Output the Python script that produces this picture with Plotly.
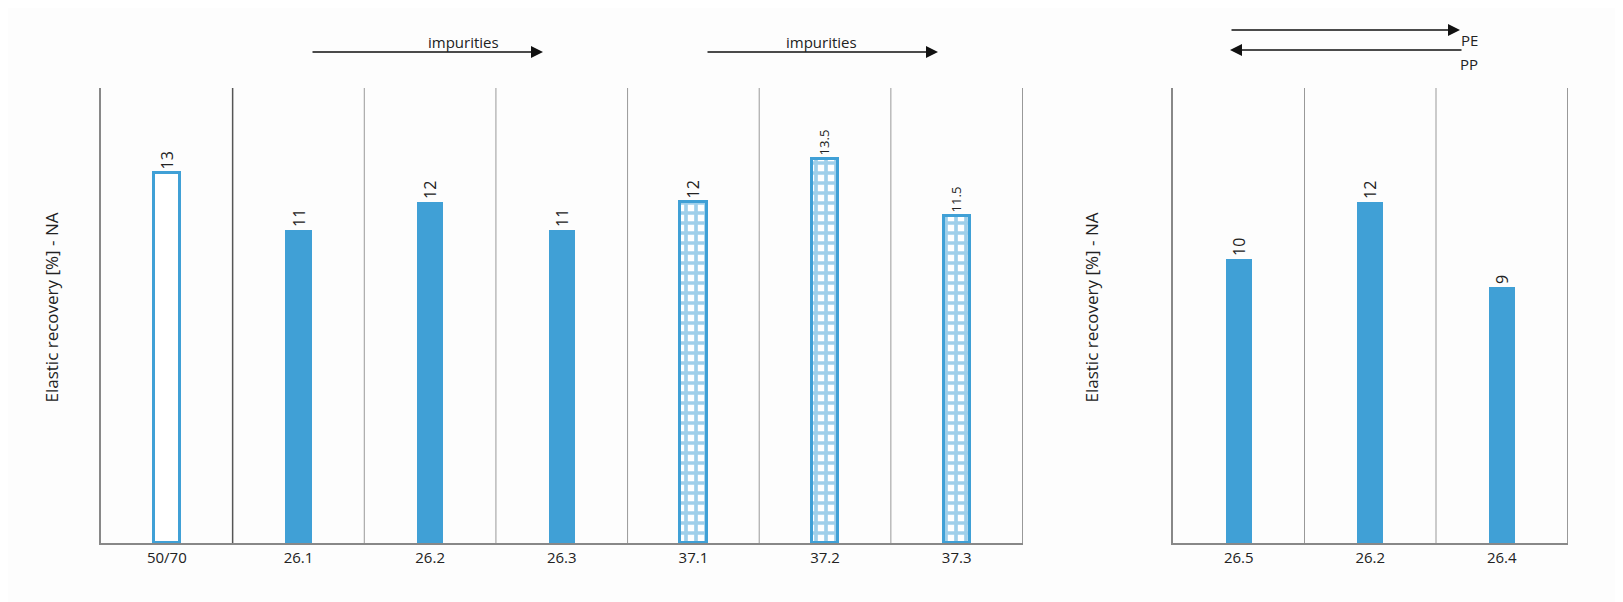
import plotly.graph_objects as go

cats_left = ["50/70", "26.1", "26.2", "26.3", "37.1", "37.2", "37.3"]
vals_left = [13, 11, 12, 11, 12, 13.5, 11.5]
labels_left = ["13", "11", "12", "11", "12", "13.5", "11.5"]
cats_right = ["26.5", "26.2", "26.4"]
vals_right = [10, 12, 9]
labels_right = ["10", "12", "9"]

BLUE = "#40a0d6"
W, H = 1623, 602
fig = go.Figure()

fig.add_bar(x=cats_left[:1], y=vals_left[:1], text=labels_left[:1], width=0.2,
            marker=dict(color="white", line=dict(color=BLUE, width=3)), xaxis="x", yaxis="y")
fig.add_bar(x=cats_left[1:4], y=vals_left[1:4], text=labels_left[1:4], width=0.2,
            marker=dict(color=BLUE, line=dict(width=0)), xaxis="x", yaxis="y")
fig.add_bar(x=cats_left[4:], y=vals_left[4:], text=labels_left[4:], width=0.2,
            marker=dict(color="white", line=dict(color=BLUE, width=3),
                        pattern=dict(shape="+", fgcolor=BLUE, bgcolor="white", size=10, solidity=0.6)),
            xaxis="x", yaxis="y")
fig.add_bar(x=cats_right, y=vals_right, text=labels_right, width=0.2,
            marker=dict(color=BLUE, line=dict(width=0)), xaxis="x2", yaxis="y2")

fig.update_traces(textposition="outside", textangle=-90, cliponaxis=False,
                  textfont=dict(size=16, color="#222"), showlegend=False)

ax = dict(showline=True, linecolor="#888", linewidth=1.5, tickfont=dict(size=15, color="#222"),
          ticks="", showgrid=False, fixedrange=True)
ay = dict(range=[0, 16], showticklabels=False, showgrid=False, zeroline=False,
          showline=True, linecolor="#888", linewidth=1.5, ticks="", domain=[67 / H, 1 - 80 / H])
fig.update_layout(
    width=W, height=H, plot_bgcolor="#fdfdfd", paper_bgcolor="#fdfdfd", bargap=0,
    margin=dict(l=0, r=0, t=0, b=0),
    font=dict(family="Open Sans", color="#222"),
    xaxis=dict(domain=[93 / W, 1015 / W], **ax),
    xaxis2=dict(domain=[1165 / W, 1560 / W], anchor="y2", **ax),
    yaxis=dict(anchor="x", **ay),
    yaxis2=dict(anchor="x2", **ay),
)

shapes = []
for i in range(len(cats_left)):
    shapes.append(dict(type="line", xref="x", yref="y", x0=i + 0.5, x1=i + 0.5, y0=0, y1=16,
                       line=dict(color="#555" if i == 0 else "#999", width=1.5 if i == 0 else 1)))
for i in range(len(cats_right)):
    shapes.append(dict(type="line", xref="x2", yref="y2", x0=i + 0.5, x1=i + 0.5, y0=0, y1=16,
                       line=dict(color="#999", width=1)))
fig.update_layout(shapes=shapes)

def px(x): return x / W
def py(y): return 1 - y / H

anns = []
def arrow(x0, x1, y):
    anns.append(dict(xref="paper", yref="paper", axref="pixel", ayref="pixel",
                     x=px(x1), y=py(y), ax=x0 - x1, ay=0, text="", showarrow=True,
                     arrowhead=2, arrowsize=1.6, arrowwidth=1.5, arrowcolor="#111"))
arrow(303, 535, 44); arrow(698, 930, 44)
arrow(1222, 1452, 22); arrow(1455, 1222, 42)
for t, x, y in [("impurities", 418, 22), ("impurities", 813, 22), ("PE", 1472, 20), ("PP", 1472, 44)]:
    anns.append(dict(xref="paper", yref="paper", x=px(x), y=py(y), text=t, showarrow=False,
                     font=dict(size=15)))
for x in [30, 1097]:
    anns.append(dict(xref="paper", yref="paper", x=px(x), y=py(300), text="Elastic recovery [%] - NA",
                     textangle=-90, showarrow=False, font=dict(size=17)))
fig.update_layout(annotations=anns)
fig.write_html("out.html")
